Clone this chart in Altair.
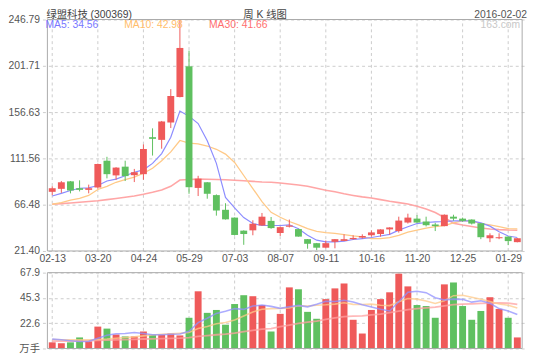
import json
import numpy as np
import pandas as pd
import altair as alt

RED = "#ef5a5a"
GREEN = "#5fc060"
FONT = "Liberation Sans, Noto Sans CJK SC"

# ---------------- data ----------------
tick_labels = ["02-13", "03-20", "04-24", "05-29", "07-03", "08-07",
               "09-11", "10-16", "11-20", "12-25", "01-29"]

opens = [79.0, 81.9, 89.2, 82.5, 80.9, 83.2, 109.3, 95.0, 103.5, 95.2,
         96.2, 132.2, 129.6, 146.5, 171.3, 201.2, 82.8, 88.3, 75.8, 61.5,
         53.9, 41.2, 41.5, 46.2, 50.7, 38.9, 45.0, 42.7, 32.9, 29.0,
         24.6, 30.3, 31.2, 32.9, 34.5, 36.7, 37.9, 42.4, 40.8, 49.1,
         52.9, 50.1, 47.2, 45.6, 54.8, 52.9, 52.0, 48.4, 33.8, 33.8,
         35.4, 30.0]
highs = [84.4, 89.5, 89.5, 90.2, 86.0, 106.5, 113.1, 103.0, 109.3, 101.3,
         125.2, 140.8, 148.0, 179.0, 246.79, 216.5, 94.6, 88.5, 76.5, 67.9,
         54.0, 41.5, 51.3, 58.4, 54.5, 45.0, 52.0, 43.0, 33.0, 29.2,
         31.6, 33.0, 37.6, 36.7, 37.6, 41.5, 42.5, 44.5, 54.8, 57.7,
         56.4, 54.8, 48.8, 57.0, 56.7, 53.9, 52.2, 48.5, 38.6, 38.6,
         35.5, 33.9]
lows = [75.8, 78.0, 77.5, 79.4, 77.5, 82.0, 92.1, 90.8, 89.5, 88.5,
        90.8, 114.3, 121.0, 141.1, 171.0, 77.1, 74.9, 72.3, 55.8, 52.0,
        36.5, 27.4, 36.7, 46.0, 43.0, 36.0, 44.3, 35.4, 23.6, 22.1,
        24.0, 24.0, 31.0, 32.5, 33.5, 35.4, 35.4, 37.3, 39.3, 48.1,
        48.5, 45.3, 40.8, 45.5, 51.0, 49.8, 47.2, 32.9, 30.0, 32.9,
        27.1, 29.8]
closes = [82.5, 88.3, 80.3, 80.9, 82.5, 106.1, 96.2, 102.6, 94.3, 98.1,
          120.7, 130.6, 147.5, 172.3, 219.1, 83.5, 91.8, 77.1, 60.8, 52.2,
          37.0, 37.9, 47.9, 54.8, 43.7, 44.6, 46.2, 35.4, 28.4, 24.6,
          29.0, 32.9, 32.9, 34.1, 36.0, 39.5, 42.4, 44.3, 51.0, 53.9,
          49.1, 46.5, 45.6, 56.7, 52.9, 50.7, 48.1, 34.8, 36.7, 34.8,
          31.0, 33.8]

ma5 = [74.9, 77.5, 80.3, 82.5, 82.8, 85.1, 89.5, 91.4, 94.6, 98.1,
       100.4, 106.7, 116.2, 132.2, 157.7, 152.7, 145.5, 128.7, 106.7, 73.5,
       63.4, 53.9, 48.1, 46.2, 46.2, 46.2, 46.9, 43.1, 36.7, 31.9,
       30.3, 30.3, 31.0, 32.6, 33.5, 34.5, 36.0, 37.6, 41.7, 45.0,
       48.1, 49.1, 49.8, 50.1, 50.7, 50.7, 50.7, 48.8, 45.6, 40.2,
       36.0, 34.56]
ma10 = [66.9, 68.5, 70.8, 72.7, 75.5, 81.3, 84.4, 88.3, 90.8, 93.3,
        97.1, 101.9, 109.3, 117.9, 129.0, 126.4, 125.8, 123.6, 120.4, 115.7,
        107.6, 94.9, 82.2, 69.4, 59.0, 54.2, 50.1, 46.9, 43.1, 40.5,
        39.3, 38.6, 37.3, 36.0, 35.1, 33.5, 33.5, 34.5, 36.7, 39.8,
        41.7, 43.7, 45.0, 46.2, 48.8, 50.7, 50.7, 48.1, 46.9, 45.0,
        43.1, 42.98]
ma30 = [66.9, 67.5, 68.1, 68.8, 69.5, 70.3, 71.4, 72.5, 73.8, 75.0,
        76.6, 78.5, 80.8, 84.4, 90.5, 91.0, 91.4, 91.2, 91.0, 90.8,
        90.3, 89.8, 89.2, 88.6, 88.4, 87.6, 86.6, 85.7, 84.4, 82.5,
        80.6, 79.0, 77.1, 75.5, 74.1, 73.0, 71.4, 69.8, 68.5, 67.2,
        65.0, 62.2, 58.8, 54.0, 48.5, 46.6, 45.2, 43.8, 42.8, 42.2,
        41.8, 41.66]

volumes = [5.5, 4.7, 5.5, 9.9, 6.4, 19.6, 17.8, 12.5, 10.8, 10.8,
           15.2, 12.3, 12.3, 13.4, 11.7, 27.5, 51.2, 31.9, 34.5, 21.3,
           39.8, 47.7, 46.8, 38.9, 15.2, 31.0, 54.7, 53.0, 32.8, 26.6,
           44.2, 53.8, 58.2, 25.7, 13.4, 34.5, 44.2, 50.3, 67.0, 55.6,
           38.9, 38.0, 27.5, 57.4, 59.1, 38.0, 25.7, 33.6, 45.9, 35.4,
           27.5, 9.9]
vma5 = [8.4, 7.8, 7.0, 6.3, 6.4, 9.2, 11.8, 13.2, 13.4, 14.3,
        13.4, 12.3, 12.3, 12.8, 13.0, 15.4, 23.2, 27.1, 31.4, 33.3,
        35.7, 35.0, 38.0, 38.9, 37.7, 35.9, 37.3, 38.6, 37.3, 39.6,
        42.3, 42.1, 43.1, 41.7, 39.1, 37.1, 35.2, 33.6, 41.9, 50.3,
        51.2, 50.0, 45.4, 43.5, 44.2, 44.0, 41.5, 42.8, 40.5, 35.7,
        33.6, 30.5]
vma10 = [8.0, 7.9, 7.8, 7.7, 7.7, 8.0, 8.5, 9.2, 9.8, 10.4,
         11.3, 12.1, 12.8, 13.1, 13.7, 14.4, 17.8, 19.7, 22.2, 23.2,
         25.6, 29.1, 32.7, 35.2, 35.7, 35.8, 36.2, 38.3, 38.1, 38.7,
         39.1, 39.7, 40.9, 39.5, 39.4, 39.7, 38.7, 38.4, 41.8, 44.7,
         44.2, 42.6, 40.3, 42.7, 47.3, 47.6, 45.8, 44.1, 42.0, 39.9,
         38.8, 36.3]
vma30 = [6.5, 6.5, 6.6, 6.7, 6.8, 7.2, 7.5, 7.8, 8.0, 8.2,
         8.5, 8.7, 8.9, 9.1, 9.3, 9.8, 10.8, 11.5, 12.3, 12.8,
         13.8, 15.0, 16.2, 17.3, 17.7, 19.5, 21.0, 22.5, 23.5, 24.5,
         26.0, 27.3, 28.5, 29.0, 29.3, 30.0, 30.8, 32.0, 33.5, 34.8,
         35.7, 36.4, 37.0, 38.2, 39.3, 39.8, 40.0, 40.3, 40.7, 40.8,
         40.6, 39.5]

price_ticks = [21.40, 66.48, 111.56, 156.63, 201.71, 246.79]
vol_ticks = [0, 22.6, 45.3, 67.9]

title_text = "绿盟科技 (300369)"
chart_kind = "周 K 线图"
date_text = "2016-02-02"
site_text = "163.com"

# ---------------- tables ----------------
n = len(closes)
df = pd.DataFrame(dict(i=list(range(n)), o=opens, h=highs, l=lows, c=closes,
                       v=volumes, ma5=ma5, ma10=ma10, ma30=ma30,
                       vma5=vma5, vma10=vma10, vma30=vma30))
df["dir"] = np.where(df["c"] >= df["o"], "up", "down")
df["blo"] = df[["o", "c"]].min(axis=1)
df["bhi"] = np.maximum(df[["o", "c"]].max(axis=1), df["blo"] + 0.9)
df["zero"] = 0.0

tick_idx = list(range(0, n, 5))
grid_df = pd.DataFrame(dict(i=tick_idx,
                            plo=price_ticks[0], phi=price_ticks[-1],
                            vlo=vol_ticks[0], vhi=vol_ticks[-1]))
x_lo, x_hi = -0.53, n - 1 + 0.53
frame_df = pd.DataFrame(dict(x0=[x_lo], x1=[x_hi],
                             plo=[price_ticks[0]], phi=[price_ticks[-1]],
                             vlo=[vol_ticks[0]], vhi=[vol_ticks[-1]]))

# ---------------- geometry ----------------
W = 492
H_MAIN = 235
V_TOP = 257
H = 334

xs = alt.Scale(domain=[x_lo, x_hi], nice=False, zero=False)
x_axis = alt.Axis(values=tick_idx,
                  labelExpr=json.dumps(tick_labels) + "[round(datum.value/5)]",
                  grid=False, domain=False, ticks=False, labelPadding=3,
                  offset=-(H - H_MAIN), title=None, labelFlush=False,
                  labelOverlap=False)


def X(field="i"):
    return alt.X(f"{field}:Q", scale=xs, axis=x_axis)


ys_main = alt.Scale(domain=[price_ticks[0], price_ticks[-1]], range=[H_MAIN, 0],
                    nice=False, zero=False)
y_axis_main = alt.Axis(values=price_ticks, format=".2f", grid=True,
                       gridDash=[3, 3], gridColor="#cccccc", domain=False,
                       ticks=False, labelPadding=3, title=None, orient="left",
                       labelOverlap=False)

ys_vol = alt.Scale(domain=[vol_ticks[0], vol_ticks[-1]], range=[H, V_TOP],
                   nice=False, zero=False)
y_axis_vol = alt.Axis(values=vol_ticks,
                      labelExpr="datum.value == 0 ? '万手' : format(datum.value, '.1f')",
                      grid=True, gridDash=[3, 3], gridColor="#cccccc",
                      domain=False, ticks=False, labelPadding=3, title=None,
                      orient="left", labelOverlap=False)


def YM(field):
    return alt.Y(f"{field}:Q", scale=ys_main, axis=y_axis_main)


def YV(field):
    return alt.Y(f"{field}:Q", scale=ys_vol, axis=y_axis_vol)


COL = alt.Color("dir:N", scale=alt.Scale(domain=["up", "down"], range=[RED, GREEN]),
                legend=None)

base = alt.Chart(df)

# ---------------- price panel ----------------
vgrid_main = alt.Chart(grid_df).mark_rule(color="#cccccc", strokeDash=[3, 3]).encode(
    x=X(), y=YM("plo"), y2="phi")
l_ma30 = base.mark_line(color="#ff9c9c", strokeWidth=1.6, opacity=0.9).encode(x=X(), y=YM("ma30"))
l_ma10 = base.mark_line(color="#ffc987", strokeWidth=1.3).encode(x=X(), y=YM("ma10"))
l_ma5 = base.mark_line(color="#8c8cff", strokeWidth=1.2).encode(x=X(), y=YM("ma5"))
wicks = base.mark_rule(strokeWidth=1).encode(x=X(), y=YM("l"), y2="h", color=COL)
bodies = base.mark_bar(size=7).encode(x=X(), y=YM("blo"), y2="bhi", color=COL)
frame_main = alt.Chart(frame_df).mark_rect(fillOpacity=0, stroke="#aaaaaa", strokeWidth=1).encode(
    x=X("x0"), x2="x1", y=YM("plo"), y2="phi")

main = alt.layer(vgrid_main, l_ma30, l_ma10, l_ma5, wicks, bodies, frame_main)

# ---------------- volume panel ----------------
vgrid_vol = alt.Chart(grid_df).mark_rule(color="#cccccc", strokeDash=[3, 3]).encode(
    x=X(), y=YV("vlo"), y2="vhi")
vbars = base.mark_bar(size=7).encode(x=X(), y=YV("v"), y2="zero", color=COL)
v_ma30 = base.mark_line(color="#ffa0a0", strokeWidth=1.8, opacity=0.75).encode(x=X(), y=YV("vma30"))
v_ma10 = base.mark_line(color="#ffc98a", strokeWidth=1.6, opacity=0.75).encode(x=X(), y=YV("vma10"))
v_ma5 = base.mark_line(color="#9090ff", strokeWidth=1.6, opacity=0.75).encode(x=X(), y=YV("vma5"))
frame_vol = alt.Chart(frame_df).mark_rect(fillOpacity=0, stroke="#aaaaaa", strokeWidth=1).encode(
    x=X("x0"), x2="x1", y=YV("vlo"), y2="vhi")

vol = alt.layer(vgrid_vol, vbars, v_ma30, v_ma10, v_ma5, frame_vol)


# ---------------- texts ----------------
def txt(s, x, y, color, size=10.5, align="left", baseline="middle"):
    return alt.Chart(pd.DataFrame({"t": [s]})).mark_text(
        align=align, baseline=baseline, color=color, fontSize=size, font=FONT
    ).encode(x=alt.value(x), y=alt.value(y), text="t:N")


texts = [
    txt(title_text, 4, -1.5, "#444444", 10.5, baseline="alphabetic"),
    txt(chart_kind, 226, -1.5, "#444444", 10.5, align="center", baseline="alphabetic"),
    txt(date_text, W, -1.5, "#555555", 10.5, align="right", baseline="alphabetic"),
    txt(f"MA5: {ma5[-1]:.2f}", 3, 6, "#7878ff"),
    txt(f"MA10: {ma10[-1]:.2f}", 83, 6, "#ffbd6a"),
    txt(f"MA30: {ma30[-1]:.2f}", 169, 6, "#ff6e6e"),
    txt(site_text, 485, 6, "#c8c8c8", align="right"),
]

chart = alt.layer(main, vol, *texts).resolve_scale(y="independent").properties(
    width=W, height=H,
    autosize=alt.AutoSizeParams(type="none"),
    padding={"left": 35, "top": 9, "right": 5, "bottom": 9},
).configure_view(stroke=None).configure_axis(
    labelFont=FONT, labelFontSize=10.5, labelColor="#555555"
)

chart.save("out.html", embed_options={"renderer": "svg", "actions": False})
